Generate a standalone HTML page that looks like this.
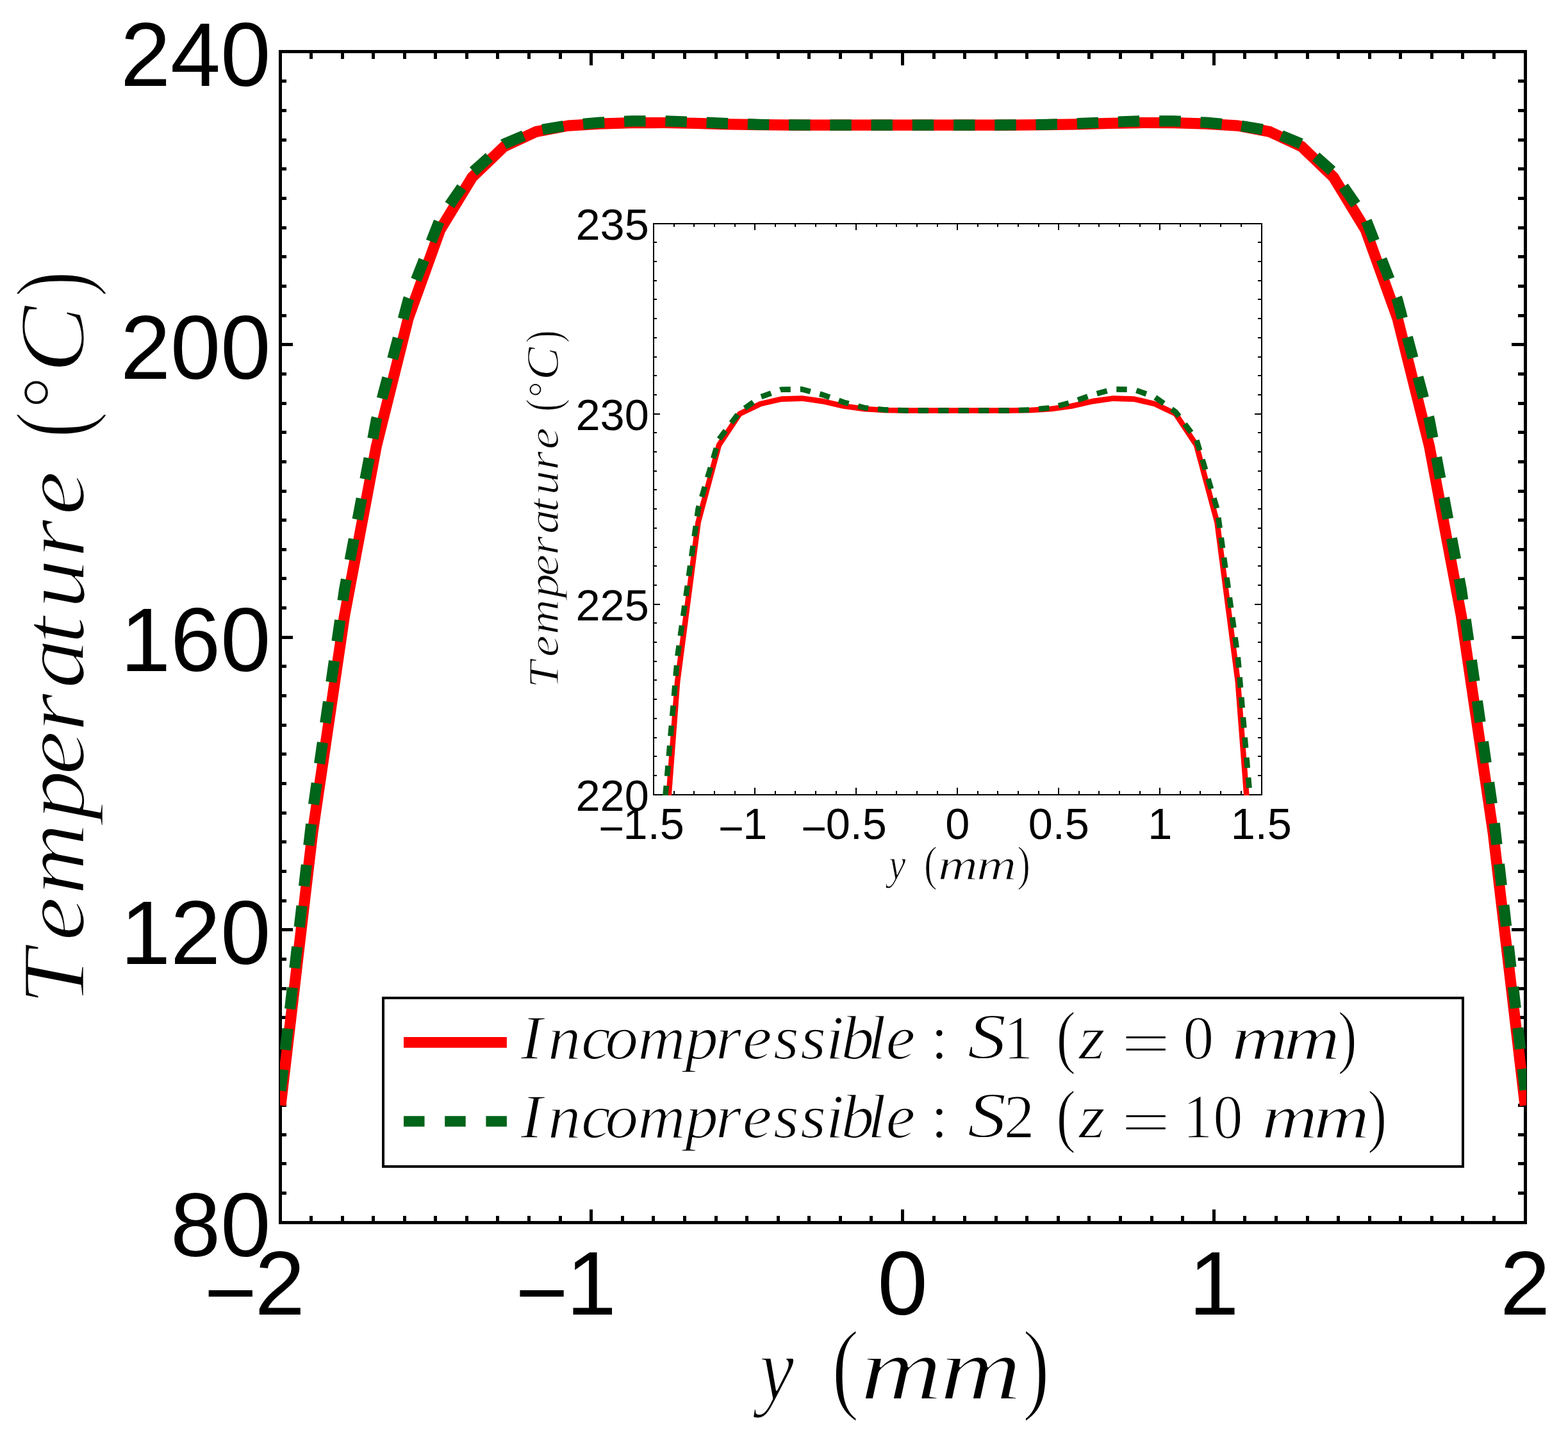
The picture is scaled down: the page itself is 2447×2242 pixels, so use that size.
<!DOCTYPE html>
<html lang="en"><head><meta charset="utf-8"><title>Temperature profile</title>
<style>html,body{margin:0;padding:0;background:#fff}svg{display:block}.tk{font-family:"Liberation Sans", sans-serif;fill:#000}.tx{font-family:"Liberation Serif", serif;fill:#000}.it{font-style:italic}</style>
</head><body>
<svg width="2447" height="2242" viewBox="0 0 2447 2242" role="img" aria-label="Temperature profile across y for sections S1 and S2, with inset">
<rect width="2447" height="2242" fill="#fff"/>
<defs>
<clipPath id="cm"><rect x="436.95" y="70" width="1945.15" height="1845"/></clipPath>
<clipPath id="ci"><rect x="1019.1" y="347.6" width="950.9" height="893.3"/></clipPath>
</defs>
<g fill="none" stroke="#000" stroke-width="5" shape-rendering="crispEdges">
<rect x="437.55" y="80.55" width="1942.95" height="1827.05"/>
<path d="M485.48,1907.6v-10.6M485.48,80.55v11.3M534.06,1907.6v-10.6M534.06,80.55v11.3M582.64,1907.6v-10.6M582.64,80.55v11.3M631.22,1907.6v-10.6M631.22,80.55v11.3M679.8,1907.6v-10.6M679.8,80.55v11.3M728.38,1907.6v-10.6M728.38,80.55v11.3M776.96,1907.6v-10.6M776.96,80.55v11.3M825.54,1907.6v-10.6M825.54,80.55v11.3M874.12,1907.6v-10.6M874.12,80.55v11.3M922.7,1907.6v-10.6M922.7,80.55v11.3M971.28,1907.6v-10.6M971.28,80.55v11.3M1019.86,1907.6v-10.6M1019.86,80.55v11.3M1068.44,1907.6v-10.6M1068.44,80.55v11.3M1117.02,1907.6v-10.6M1117.02,80.55v11.3M1165.6,1907.6v-10.6M1165.6,80.55v11.3M1214.18,1907.6v-10.6M1214.18,80.55v11.3M1262.76,1907.6v-10.6M1262.76,80.55v11.3M1311.34,1907.6v-10.6M1311.34,80.55v11.3M1359.92,1907.6v-10.6M1359.92,80.55v11.3M1408.5,1907.6v-10.6M1408.5,80.55v11.3M1457.08,1907.6v-10.6M1457.08,80.55v11.3M1505.66,1907.6v-10.6M1505.66,80.55v11.3M1554.24,1907.6v-10.6M1554.24,80.55v11.3M1602.82,1907.6v-10.6M1602.82,80.55v11.3M1651.4,1907.6v-10.6M1651.4,80.55v11.3M1699.98,1907.6v-10.6M1699.98,80.55v11.3M1748.56,1907.6v-10.6M1748.56,80.55v11.3M1797.14,1907.6v-10.6M1797.14,80.55v11.3M1845.72,1907.6v-10.6M1845.72,80.55v11.3M1894.3,1907.6v-10.6M1894.3,80.55v11.3M1942.88,1907.6v-10.6M1942.88,80.55v11.3M1991.46,1907.6v-10.6M1991.46,80.55v11.3M2040.04,1907.6v-10.6M2040.04,80.55v11.3M2088.62,1907.6v-10.6M2088.62,80.55v11.3M2137.2,1907.6v-10.6M2137.2,80.55v11.3M2185.78,1907.6v-10.6M2185.78,80.55v11.3M2234.36,1907.6v-10.6M2234.36,80.55v11.3M2282.94,1907.6v-10.6M2282.94,80.55v11.3M2331.52,1907.6v-10.6M2331.52,80.55v11.3M922.7,1907.6v-20.6M922.7,80.55v21.3M1408.5,1907.6v-20.6M1408.5,80.55v21.3M1894.3,1907.6v-20.6M1894.3,80.55v21.3M437.55,1861.6h9.5M2380.5,1861.6h-11.3M437.55,1815.95h9.5M2380.5,1815.95h-11.3M437.55,1770.3h9.5M2380.5,1770.3h-11.3M437.55,1724.65h9.5M2380.5,1724.65h-11.3M437.55,1679h9.5M2380.5,1679h-11.3M437.55,1633.35h9.5M2380.5,1633.35h-11.3M437.55,1587.7h9.5M2380.5,1587.7h-11.3M437.55,1542.05h9.5M2380.5,1542.05h-11.3M437.55,1496.4h9.5M2380.5,1496.4h-11.3M437.55,1450.75h9.5M2380.5,1450.75h-11.3M437.55,1405.1h9.5M2380.5,1405.1h-11.3M437.55,1359.45h9.5M2380.5,1359.45h-11.3M437.55,1313.8h9.5M2380.5,1313.8h-11.3M437.55,1268.15h9.5M2380.5,1268.15h-11.3M437.55,1222.5h9.5M2380.5,1222.5h-11.3M437.55,1176.85h9.5M2380.5,1176.85h-11.3M437.55,1131.2h9.5M2380.5,1131.2h-11.3M437.55,1085.55h9.5M2380.5,1085.55h-11.3M437.55,1039.9h9.5M2380.5,1039.9h-11.3M437.55,994.25h9.5M2380.5,994.25h-11.3M437.55,948.6h9.5M2380.5,948.6h-11.3M437.55,902.95h9.5M2380.5,902.95h-11.3M437.55,857.3h9.5M2380.5,857.3h-11.3M437.55,811.65h9.5M2380.5,811.65h-11.3M437.55,766h9.5M2380.5,766h-11.3M437.55,720.35h9.5M2380.5,720.35h-11.3M437.55,674.7h9.5M2380.5,674.7h-11.3M437.55,629.05h9.5M2380.5,629.05h-11.3M437.55,583.4h9.5M2380.5,583.4h-11.3M437.55,537.75h9.5M2380.5,537.75h-11.3M437.55,492.1h9.5M2380.5,492.1h-11.3M437.55,446.45h9.5M2380.5,446.45h-11.3M437.55,400.8h9.5M2380.5,400.8h-11.3M437.55,355.15h9.5M2380.5,355.15h-11.3M437.55,309.5h9.5M2380.5,309.5h-11.3M437.55,263.85h9.5M2380.5,263.85h-11.3M437.55,218.2h9.5M2380.5,218.2h-11.3M437.55,172.55h9.5M2380.5,172.55h-11.3M437.55,126.9h9.5M2380.5,126.9h-11.3M437.55,1450.75h19.4M2380.5,1450.75h-21.2M437.55,994.25h19.4M2380.5,994.25h-21.2M437.55,537.75h19.4M2380.5,537.75h-21.2"/>
</g>
<g clip-path="url(#cm)" fill="none" stroke-linejoin="round"><g transform="translate(0,0.75)">
<path d="M437.9,1723.97 L487.73,1298.96 L537.55,960.01 L587.38,695.24 L637.2,495.52 L687.03,357.43 L736.85,275.72 L786.68,227.9 L836.51,204.73 L886.33,195.38 L936.16,192.41 L985.98,190.96 L1035.81,190.76 L1085.63,191.63 L1135.46,193.05 L1185.28,193.91 L1235.11,194.3 L1284.94,194.38 L1334.76,194.38 L1384.59,194.38 L1433.41,194.38 L1483.24,194.38 L1533.06,194.38 L1582.89,194.3 L1632.72,193.91 L1682.54,193.05 L1732.37,191.63 L1782.19,190.76 L1832.02,190.96 L1881.84,192.41 L1931.67,195.38 L1981.49,204.73 L2031.32,227.9 L2081.15,275.72 L2130.97,357.43 L2180.8,495.52 L2230.62,695.24 L2280.45,960.01 L2330.27,1298.96 L2380.1,1723.97" stroke="#ff0000" stroke-width="17.2"/>
<path d="M437.9,1701.14 L487.73,1267.01 L537.55,918.93 L587.38,654.16 L637.2,466.99 L687.03,340.31 L736.85,268.3 L786.68,223.91 L836.51,203.02 L886.33,194.8 L936.16,190.35 L985.98,188.11 L1035.81,188.03 L1085.63,189.69 L1135.46,191.91 L1185.28,193.57 L1235.11,194.19 L1284.94,194.38 L1334.76,194.38 L1384.59,194.38 L1433.41,194.38 L1483.24,194.38 L1533.06,194.38 L1582.89,194.19 L1632.72,193.57 L1682.54,191.91 L1732.37,189.69 L1782.19,188.03 L1832.02,188.11 L1881.84,190.35 L1931.67,194.8 L1981.49,203.02 L2031.32,223.91 L2081.15,268.3 L2130.97,340.31 L2180.8,466.99 L2230.62,654.16 L2280.45,918.93 L2330.27,1267.01 L2380.1,1701.14" stroke="#006419" stroke-width="17.2" stroke-dasharray="33.4 30.85" stroke-dashoffset="0"/>
</g></g>
<rect x="1020.07" y="348.6" width="948.93" height="891.3" fill="#fff"/>
<g fill="none" stroke="#000" stroke-width="2" shape-rendering="crispEdges">
<rect x="1020.07" y="348.6" width="948.93" height="891.3"/>
<path d="M1051.8,1239.9v-5.9M1051.8,348.6v5.5M1083.41,1239.9v-5.9M1083.41,348.6v5.5M1115.01,1239.9v-5.9M1115.01,348.6v5.5M1146.61,1239.9v-5.9M1146.61,348.6v5.5M1178.22,1239.9v-5.9M1178.22,348.6v5.5M1209.82,1239.9v-5.9M1209.82,348.6v5.5M1241.42,1239.9v-5.9M1241.42,348.6v5.5M1273.03,1239.9v-5.9M1273.03,348.6v5.5M1304.63,1239.9v-5.9M1304.63,348.6v5.5M1336.23,1239.9v-5.9M1336.23,348.6v5.5M1367.84,1239.9v-5.9M1367.84,348.6v5.5M1399.44,1239.9v-5.9M1399.44,348.6v5.5M1431.04,1239.9v-5.9M1431.04,348.6v5.5M1462.65,1239.9v-5.9M1462.65,348.6v5.5M1494.25,1239.9v-5.9M1494.25,348.6v5.5M1525.85,1239.9v-5.9M1525.85,348.6v5.5M1557.46,1239.9v-5.9M1557.46,348.6v5.5M1589.06,1239.9v-5.9M1589.06,348.6v5.5M1620.66,1239.9v-5.9M1620.66,348.6v5.5M1652.27,1239.9v-5.9M1652.27,348.6v5.5M1683.87,1239.9v-5.9M1683.87,348.6v5.5M1715.47,1239.9v-5.9M1715.47,348.6v5.5M1747.08,1239.9v-5.9M1747.08,348.6v5.5M1778.68,1239.9v-5.9M1778.68,348.6v5.5M1810.28,1239.9v-5.9M1810.28,348.6v5.5M1841.89,1239.9v-5.9M1841.89,348.6v5.5M1873.49,1239.9v-5.9M1873.49,348.6v5.5M1905.09,1239.9v-5.9M1905.09,348.6v5.5M1936.7,1239.9v-5.9M1936.7,348.6v5.5M1178.22,1239.9v-10.7M1178.22,348.6v10.3M1336.23,1239.9v-10.7M1336.23,348.6v10.3M1494.25,1239.9v-10.7M1494.25,348.6v10.3M1652.27,1239.9v-10.7M1652.27,348.6v10.3M1810.28,1239.9v-10.7M1810.28,348.6v10.3M1020.07,1209.9h5M1969,1209.9h-5.9M1020.07,1180.2h5M1969,1180.2h-5.9M1020.07,1150.5h5M1969,1150.5h-5.9M1020.07,1120.8h5M1969,1120.8h-5.9M1020.07,1091.1h5M1969,1091.1h-5.9M1020.07,1061.4h5M1969,1061.4h-5.9M1020.07,1031.7h5M1969,1031.7h-5.9M1020.07,1002h5M1969,1002h-5.9M1020.07,972.3h5M1969,972.3h-5.9M1020.07,942.6h5M1969,942.6h-5.9M1020.07,912.9h5M1969,912.9h-5.9M1020.07,883.2h5M1969,883.2h-5.9M1020.07,853.5h5M1969,853.5h-5.9M1020.07,823.8h5M1969,823.8h-5.9M1020.07,794.1h5M1969,794.1h-5.9M1020.07,764.4h5M1969,764.4h-5.9M1020.07,734.7h5M1969,734.7h-5.9M1020.07,705h5M1969,705h-5.9M1020.07,675.3h5M1969,675.3h-5.9M1020.07,645.6h5M1969,645.6h-5.9M1020.07,615.9h5M1969,615.9h-5.9M1020.07,586.2h5M1969,586.2h-5.9M1020.07,556.5h5M1969,556.5h-5.9M1020.07,526.8h5M1969,526.8h-5.9M1020.07,497.1h5M1969,497.1h-5.9M1020.07,467.4h5M1969,467.4h-5.9M1020.07,437.7h5M1969,437.7h-5.9M1020.07,408h5M1969,408h-5.9M1020.07,378.3h5M1969,378.3h-5.9M1020.07,942.6h9.8M1969,942.6h-10.7M1020.07,645.6h9.8M1969,645.6h-10.7"/>
</g>
<g clip-path="url(#ci)" fill="none" stroke-linejoin="round">
<path d="M862.67,8601.64 L895.08,6389.58 L927.5,4625.4 L959.91,3247.32 L992.33,2207.82 L1024.74,1489.08 L1057.15,1063.78 L1089.57,814.89 L1121.98,694.31 L1154.39,645.6 L1186.81,630.16 L1219.22,622.61 L1251.64,621.6 L1284.05,626.12 L1316.46,633.48 L1348.88,638 L1381.29,640.02 L1413.7,640.43 L1446.12,640.43 L1478.53,640.43 L1510.46,640.43 L1542.87,640.43 L1575.28,640.43 L1607.7,640.02 L1640.11,638 L1672.53,633.48 L1704.94,626.12 L1737.35,621.6 L1769.77,622.61 L1802.18,630.16 L1834.59,645.6 L1867.01,694.31 L1899.42,814.89 L1931.83,1063.78 L1964.25,1489.08 L1996.66,2207.82 L2029.08,3247.32 L2061.49,4625.4 L2093.9,6389.58 L2126.32,8601.64" stroke="#ff0000" stroke-width="8.6"/>
<path d="M862.67,8482.84 L895.08,6223.26 L927.5,4411.56 L959.91,3033.48 L992.33,2059.32 L1024.74,1399.98 L1057.15,1025.17 L1089.57,794.1 L1121.98,685.4 L1154.39,642.63 L1186.81,619.46 L1219.22,607.76 L1251.64,607.35 L1284.05,616.02 L1316.46,627.54 L1348.88,636.21 L1381.29,639.42 L1413.7,640.43 L1446.12,640.43 L1478.53,640.43 L1510.46,640.43 L1542.87,640.43 L1575.28,640.43 L1607.7,639.42 L1640.11,636.21 L1672.53,627.54 L1704.94,616.02 L1737.35,607.35 L1769.77,607.76 L1802.18,619.46 L1834.59,642.63 L1867.01,685.4 L1899.42,794.1 L1931.83,1025.17 L1964.25,1399.98 L1996.66,2059.32 L2029.08,3033.48 L2061.49,4411.56 L2093.9,6223.26 L2126.32,8482.84" stroke="#006419" stroke-width="8.6" stroke-dasharray="16.4 15" stroke-dashoffset="10"/>
</g>
<text class="tk" font-size="140.5" y="2065.35 2051.3" x="318.79 397.84">−2</text>
<text class="tk" font-size="140.5" y="2065.35 2051.3" x="804.59 883.64">−1</text>
<text class="tk" font-size="140.5" y="2051.3" x="1369.44">0</text>
<text class="tk" font-size="140.5" y="2051.3" x="1855.24">1</text>
<text class="tk" font-size="140.5" y="2051.3" x="2341.04">2</text>
<text class="tk" font-size="140.5" text-anchor="end" x="422.3" y="1960.25">80</text>
<text class="tk" font-size="140.5" text-anchor="end" x="422.3" y="1503.75">120</text>
<text class="tk" font-size="140.5" text-anchor="end" x="422.3" y="1047.25">160</text>
<text class="tk" font-size="140.5" text-anchor="end" x="422.3" y="590.75">200</text>
<text class="tk" font-size="140.5" text-anchor="end" x="422.3" y="134.25">240</text>
<text class="tk" font-size="68.5" y="1316.05 1309.2" x="934.09 972.59">−1.5</text>
<text class="tk" font-size="68.5" y="1316.05 1309.2" x="1120.67 1159.17">−1</text>
<text class="tk" font-size="68.5" y="1316.05 1309.2" x="1250.12 1288.63">−0.5</text>
<text class="tk" font-size="68.5" y="1309.2" x="1475.21">0</text>
<text class="tk" font-size="68.5" y="1309.2" x="1604.66">0.5</text>
<text class="tk" font-size="68.5" y="1309.2" x="1791.24">1</text>
<text class="tk" font-size="68.5" y="1309.2" x="1920.69">1.5</text>
<text class="tk" font-size="68.5" text-anchor="end" x="1012.8" y="1264.5">220</text>
<text class="tk" font-size="68.5" text-anchor="end" x="1012.8" y="967.5">225</text>
<text class="tk" font-size="68.5" text-anchor="end" x="1012.8" y="670.5">230</text>
<text class="tk" font-size="68.5" text-anchor="end" x="1012.8" y="373.5">235</text>
<g stroke="#fff" stroke-linejoin="round">
<g transform="translate(131.3,1562.8) rotate(-90)"><text class="tx it" font-size="140" transform="scale(1.1134,1)" y="0" x="-4.98 84.83 149.38 254.43 317.55 377.87 438.47 500.93 550.28 621.57 681.47" stroke-width="2.52">Temperature</text> <text class="tx" font-size="158.2" transform="scale(0.7734,1)" y="2.52" x="1137.43" stroke-width="2.85">(</text><text class="tx" font-size="126" transform="scale(0.997,1)" y="-9.52" x="928.03" stroke-width="2.27">°</text><text class="tx it" font-size="147" transform="scale(1.0753,1)" y="0" x="911.87" stroke-width="2.65">C</text><text class="tx" font-size="158.2" transform="scale(0.7659,1)" y="2.52" x="1435.65" stroke-width="2.85">)</text></g>
<g transform="translate(1175,2182.7)"><text class="tx it" font-size="140" transform="scale(0.8707,1)" y="0" x="11.55" stroke-width="2.52">y</text> <text class="tx" font-size="158.2" transform="scale(0.8106,1)" y="2.52" x="151.9" stroke-width="2.85">(</text><text class="tx it" font-size="140" transform="scale(1.2663,1)" y="0" x="132.36 230.21" stroke-width="2.52">mm</text><text class="tx" font-size="158.2" transform="scale(0.8027,1)" y="2.52" x="524.31" stroke-width="2.85">)</text></g>
</g>
<rect x="598" y="1557" width="1684.5" height="263" fill="#fff" stroke="#000" stroke-width="4" shape-rendering="crispEdges"/>
<path d="M630,1626.3H790.9" stroke="#ff0000" stroke-width="16.7" fill="none"/>
<path d="M630,1749.5H790.9" stroke="#006419" stroke-width="16.7" stroke-dasharray="32.5 31.7" fill="none"/>
<g stroke="#fff" stroke-linejoin="round">
<g transform="translate(0,1652.3)"><text class="tx it" font-size="97" transform="scale(1.0654,1)" y="0" x="762.57 802.48 851.33 886.49 934.18 1003.6 1048.29 1087.63 1132.79 1172.35 1209.41 1231.99 1270.83 1297.59" stroke-width="1.75">Incompressible</text> <text class="tx" font-size="97" transform="scale(0.9827,1)" y="0" x="1478.39" stroke-width="1.75">:</text> <text class="tx it" font-size="101.85" transform="scale(1.1907,1)" y="0" x="1267.94" stroke-width="1.83">S</text><text class="tx" font-size="97" transform="scale(0.9417,1)" y="0" x="1663.44" stroke-width="1.75">1</text> <text class="tx" font-size="109.61" transform="scale(0.8443,1)" y="1.75" x="1952.32" stroke-width="1.97">(</text><text class="tx it" font-size="97" transform="scale(1.0952,1)" y="0" x="1537.23" stroke-width="1.75">z</text> <text class="tx" font-size="97" transform="scale(1.4123,1)" y="8.05" x="1238.83" stroke-width="1.75">=</text> <text class="tx" font-size="97" transform="scale(0.9921,1)" y="0" x="1860.96" stroke-width="1.75">0</text> <text class="tx it" font-size="97" transform="scale(1.2628,1)" y="0" x="1521.96 1586.26" stroke-width="1.75">mm</text><text class="tx" font-size="109.61" transform="scale(0.8326,1)" y="1.75" x="2507.22" stroke-width="1.97">)</text></g>
<g transform="translate(0,1775.3)"><text class="tx it" font-size="97" transform="scale(1.0654,1)" y="0" x="762.57 802.48 851.33 886.49 934.18 1003.6 1048.29 1087.63 1132.79 1172.35 1209.41 1231.99 1270.83 1297.59" stroke-width="1.75">Incompressible</text> <text class="tx" font-size="97" transform="scale(0.9827,1)" y="0" x="1478.39" stroke-width="1.75">:</text> <text class="tx it" font-size="101.85" transform="scale(1.1907,1)" y="0" x="1267.94" stroke-width="1.83">S</text><text class="tx" font-size="97" transform="scale(0.9897,1)" y="0" x="1582.8" stroke-width="1.75">2</text> <text class="tx" font-size="109.61" transform="scale(0.8443,1)" y="1.75" x="1952.32" stroke-width="1.97">(</text><text class="tx it" font-size="97" transform="scale(1.0952,1)" y="0" x="1537.23" stroke-width="1.75">z</text> <text class="tx" font-size="97" transform="scale(1.4123,1)" y="8.05" x="1238.83" stroke-width="1.75">=</text> <text class="tx" font-size="97" transform="scale(0.9547,1)" y="0" x="1933.54 1982.96" stroke-width="1.75">10</text> <text class="tx it" font-size="97" transform="scale(1.2475,1)" y="0" x="1578.45 1643.34" stroke-width="1.75">mm</text><text class="tx" font-size="109.61" transform="scale(0.8362,1)" y="1.75" x="2551.96" stroke-width="1.97">)</text></g>
<g transform="translate(871.3,1071) rotate(-90)"><text class="tx it" font-size="68.25" transform="scale(1.1134,1)" y="0" x="-2.43 41.36 72.82 124.04 154.81 184.21 213.75 244.2 268.26 303.02 332.22" stroke-width="1.23">Temperature</text> <text class="tx" font-size="77.12" transform="scale(0.7734,1)" y="1.23" x="554.5" stroke-width="1.39">(</text><text class="tx" font-size="61.43" transform="scale(0.997,1)" y="-4.64" x="452.42" stroke-width="1.11">°</text><text class="tx it" font-size="71.66" transform="scale(1.0753,1)" y="0" x="444.54" stroke-width="1.29">C</text><text class="tx" font-size="77.12" transform="scale(0.7659,1)" y="1.23" x="699.88" stroke-width="1.39">)</text></g>
<g transform="translate(1382,1372.2)"><text class="tx it" font-size="68.25" transform="scale(0.8707,1)" y="0" x="5.63" stroke-width="1.23">y</text> <text class="tx" font-size="77.12" transform="scale(0.8106,1)" y="1.23" x="74.05" stroke-width="1.39">(</text><text class="tx it" font-size="68.25" transform="scale(1.2663,1)" y="0" x="64.53 112.23" stroke-width="1.23">mm</text><text class="tx" font-size="77.12" transform="scale(0.8027,1)" y="1.23" x="255.6" stroke-width="1.39">)</text></g>
</g>
</svg>
</body></html>
